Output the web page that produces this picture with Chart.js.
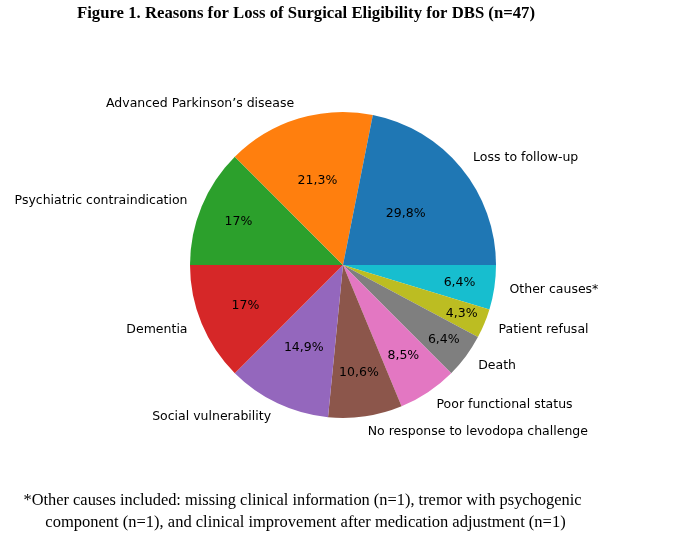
<!DOCTYPE html>
<html>
<head>
<meta charset="utf-8">
<script src="https://cdn.jsdelivr.net/npm/chart.js@4"></script>
<style>
  html, body { margin: 0; padding: 0; background: #fff; }
  #chart { display: block; }
</style>
</head>
<body>
<canvas id="chart" width="676" height="545"></canvas>
<script>
// Categories, counts and the percentage labels printed in each slice
const categories = ['Loss to follow-up', 'Advanced Parkinson\u2019s disease', 'Psychiatric contraindication',
  'Dementia', 'Social vulnerability', 'No response to levodopa challenge', 'Poor functional status',
  'Death', 'Patient refusal', 'Other causes*'];
const counts = [14, 10, 8, 8, 7, 5, 4, 3, 2, 3];
const pctLabels = ['29,8%', '21,3%', '17%', '17%', '14,9%', '10,6%', '8,5%', '6,4%', '4,3%', '6,4%'];

// matplotlib tab10 colours
const colors = ['#1f77b4', '#ff7f0e', '#2ca02c', '#d62728', '#9467bd',
  '#8c564b', '#e377c2', '#7f7f7f', '#bcbd22', '#17becf'];

const titleText = 'Figure 1. Reasons for Loss of Surgical Eligibility for DBS (n=47)';
const noteLines = [
  '*Other causes included: missing clinical information (n=1), tremor with psychogenic',
  'component (n=1), and clinical improvement after medication adjustment (n=1)'
];

// Radial position of the percentage text in each slice (fraction of radius)
const pctRadius = [0.53, 0.575, 0.74, 0.69, 0.6, 0.71, 0.71, 0.82, 0.84, 0.77];

// matplotlib goes counter-clockwise from 3 o'clock, Chart.js clockwise,
// so feed the slices in reverse order starting at 3 o'clock
const rev = (a) => a.slice().reverse();

const labelFont = '12.5px "DejaVu Sans"';

const pieText = {
  id: 'pieText',
  afterDraw(chart) {
    const ctx = chart.ctx;
    const arcs = chart.getDatasetMeta(0).data;
    const n = arcs.length;
    ctx.save();
    ctx.fillStyle = '#000';
    ctx.font = labelFont;
    ctx.textBaseline = 'middle';
    arcs.forEach((arc, i) => {
      const k = n - 1 - i; // index in original order
      const p = arc.getProps(['x', 'y', 'startAngle', 'endAngle', 'outerRadius'], true);
      const mid = (p.startAngle + p.endAngle) / 2;
      const c = Math.cos(mid), s = Math.sin(mid);

      // outer category label
      const r1 = p.outerRadius * 1.1;
      ctx.textAlign = c >= 0 ? 'left' : 'right';
      ctx.fillText(categories[k], p.x + c * r1, p.y + s * r1);

      // percentage inside the slice
      const r2 = p.outerRadius * pctRadius[k];
      ctx.textAlign = 'center';
      ctx.fillText(pctLabels[k], p.x + c * r2, p.y + s * r2);
    });

    // title
    ctx.textBaseline = 'alphabetic';
    ctx.textAlign = 'center';
    ctx.font = 'bold 17px "Liberation Serif"';
    ctx.fillText(titleText, 306, 18, 458);

    // footnote
    ctx.font = '16.5px "Liberation Serif"';
    ctx.fillText(noteLines[0], 302.5, 505, 558);
    ctx.fillText(noteLines[1], 305.5, 527, 522);
    ctx.restore();
  }
};

new Chart(document.getElementById('chart'), {
  type: 'pie',
  data: {
    labels: rev(categories),
    datasets: [{
      data: rev(counts),
      backgroundColor: rev(colors),
      borderWidth: 0
    }]
  },
  options: {
    responsive: false,
    animation: false,
    rotation: 90,
    layout: { padding: { top: 112, bottom: 127, left: 190, right: 180 } },
    plugins: {
      legend: { display: false },
      tooltip: { enabled: false }
    }
  },
  plugins: [pieText]
});
</script>
</body>
</html>
